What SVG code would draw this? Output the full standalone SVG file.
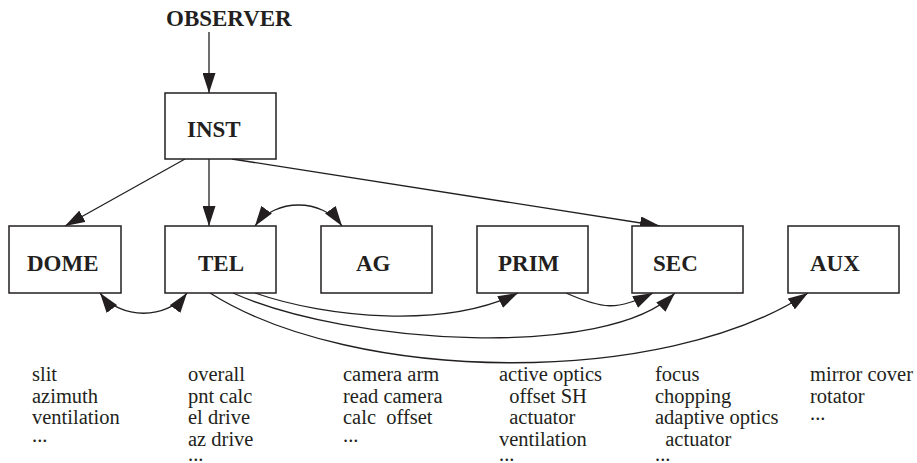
<svg xmlns="http://www.w3.org/2000/svg" width="917" height="463" viewBox="0 0 917 463">
<style>
.box{fill:#fff;stroke:#231f20;stroke-width:1.5}
.lbl{font-family:"Liberation Serif",serif;font-weight:bold;font-size:23px;fill:#231f20}
.txt{font-family:"Liberation Serif",serif;font-size:20.5px;fill:#231f20;white-space:pre}
.e{fill:none;stroke:#231f20;stroke-width:1.3}
.a{marker-end:url(#ah)}
.d{marker-start:url(#ah);marker-end:url(#ah)}
</style>
<defs>
<marker id="ah" markerUnits="userSpaceOnUse" viewBox="0 0 20 13" refX="20" refY="6.5" markerWidth="20" markerHeight="13" orient="auto-start-reverse">
<path d="M0,0 L20,6.5 L0,13 z" fill="#231f20"/>
</marker>
</defs>
<g id="connectors">
<path class="e a" d="M209,32 L209,93"/>
<path class="e a" d="M185,159 L65,226"/>
<path class="e a" d="M209,159 L209,226"/>
<path class="e a" d="M232,159 L660,226"/>
<path class="e d" d="M255,226 C275,198 322,198 342,226"/>
<path class="e d" d="M100,293 C120,320 167,320 187,293"/>
<path class="e a" d="M255,293 C327,318 446,329 518,293"/>
<path class="e a" d="M566,293 C602,309 617,311 653,293"/>
<path class="e a" d="M233,293 C349,345 608,360 675,293"/>
<path class="e a" d="M210,293 C354,384 663,388 808,293"/>
</g>
<g id="observer"><text class="lbl" x="166" y="26">OBSERVER</text></g>
<g id="inst"><rect class="box" x="165" y="93" width="111" height="66"/><text class="lbl" x="187" y="137">INST</text></g>
<g id="dome"><rect class="box" x="9" y="226" width="112" height="67"/><text class="lbl" x="27" y="271">DOME</text></g>
<g id="tel"><rect class="box" x="165" y="226" width="111" height="67"/><text class="lbl" x="198" y="271">TEL</text></g>
<g id="ag"><rect class="box" x="321" y="226" width="111" height="67"/><text class="lbl" x="356" y="271">AG</text></g>
<g id="prim"><rect class="box" x="477" y="226" width="111" height="67"/><text class="lbl" x="498" y="271">PRIM</text></g>
<g id="sec"><rect class="box" x="632" y="226" width="111" height="67"/><text class="lbl" x="653" y="271">SEC</text></g>
<g id="aux"><rect class="box" x="788" y="226" width="111" height="67"/><text class="lbl" x="810" y="271">AUX</text></g>
<g id="notes">
<text class="txt" x="32" y="381">slit</text>
<text class="txt" x="32" y="403">azimuth</text>
<text class="txt" x="32" y="424">ventilation</text>
<text class="txt" x="32" y="442">...</text>
<text class="txt" x="188" y="381">overall</text>
<text class="txt" x="188" y="403">pnt calc</text>
<text class="txt" x="188" y="424">el drive</text>
<text class="txt" x="188" y="446">az drive</text>
<text class="txt" x="188" y="461">...</text>
<text class="txt" x="343" y="381">camera arm</text>
<text class="txt" x="343" y="403">read camera</text>
<text class="txt" x="343" y="424">calc  offset</text>
<text class="txt" x="343" y="442">...</text>
<text class="txt" x="499" y="381">active optics</text>
<text class="txt" x="499" y="403">  offset SH</text>
<text class="txt" x="499" y="424">  actuator</text>
<text class="txt" x="499" y="446">ventilation</text>
<text class="txt" x="499" y="461">...</text>
<text class="txt" x="655" y="381">focus</text>
<text class="txt" x="655" y="403">chopping</text>
<text class="txt" x="655" y="424">adaptive optics</text>
<text class="txt" x="655" y="446">  actuator</text>
<text class="txt" x="655" y="461">...</text>
<text class="txt" x="810" y="381">mirror cover</text>
<text class="txt" x="810" y="403">rotator</text>
<text class="txt" x="810" y="420">...</text>
</g>
</svg>
